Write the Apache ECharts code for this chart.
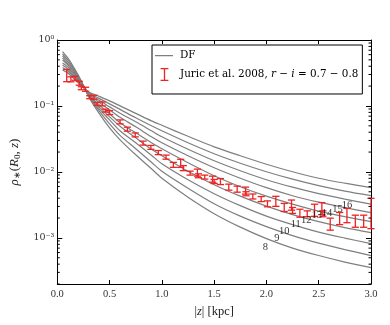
<!DOCTYPE html>
<html>
<head>
<meta charset="utf-8">
<script src="https://cdn.jsdelivr.net/npm/echarts@6/dist/echarts.min.js"></script>
<style>
html, body { margin: 0; padding: 0; background: #fff; }
#main { width: 390px; height: 325px; }
</style>
</head>
<body>
<div id="main"></div>
<script>
// model curves, sampled along |z|
var zGrid = [0.05, 0.1, 0.15, 0.2, 0.25, 0.3, 0.4, 0.5, 0.6, 0.75, 0.9, 1.0, 1.25, 1.5, 1.75, 2.0, 2.25, 2.5, 2.75, 3.0];
var radii = [8, 9, 10, 11, 12, 13, 14, 15, 16];
var dfR8  = [0.665, 0.534, 0.404, 0.295, 0.205, 0.1373, 0.0773, 0.0466, 0.0307, 0.0182, 0.01118, 0.00803, 0.00414, 0.00233, 0.001457, 0.000976, 0.000701, 0.00054, 0.00043, 0.000355];
var dfR9  = [0.614, 0.498, 0.3837, 0.2853, 0.2049, 0.1422, 0.0843, 0.0536, 0.0359, 0.02244, 0.01402, 0.01025, 0.00567, 0.0033, 0.002137, 0.001483, 0.001083, 0.000834, 0.000665, 0.00054];
var dfR10 = [0.573, 0.4647, 0.3641, 0.2756, 0.2014, 0.1422, 0.0904, 0.0616, 0.042, 0.02766, 0.01789, 0.01331, 0.00762, 0.00468, 0.00308, 0.002137, 0.001589, 0.001224, 0.000993, 0.00082];
var dfR11 = [0.534, 0.4334, 0.3456, 0.2661, 0.2014, 0.1472, 0.0969, 0.0684, 0.04913, 0.03292, 0.02205, 0.01758, 0.01025, 0.0064, 0.004289, 0.003028, 0.002252, 0.00176, 0.00143, 0.0012];
var dfR12 = [0.498, 0.4184, 0.328, 0.257, 0.1945, 0.1472, 0.1039, 0.076, 0.0555, 0.0392, 0.02766, 0.02244, 0.01378, 0.00876, 0.00597, 0.004289, 0.003246, 0.002543, 0.0021, 0.00176];
var dfR13 = [0.4487, 0.3905, 0.3113, 0.2483, 0.1945, 0.1524, 0.1134, 0.0873, 0.0672, 0.0483, 0.03407, 0.02766, 0.01758, 0.01157, 0.00803, 0.00577, 0.00436, 0.00348, 0.002873, 0.00241];
var dfR14 = [0.4184, 0.3641, 0.2954, 0.2397, 0.1945, 0.1579, 0.1216, 0.0969, 0.0773, 0.0575, 0.042, 0.03407, 0.02205, 0.01477, 0.01043, 0.00762, 0.005868, 0.00468, 0.003864, 0.003246];
var dfR15 = [0.3837, 0.3396, 0.2805, 0.2315, 0.1911, 0.1579, 0.1303, 0.1076, 0.0888, 0.0661, 0.05, 0.042, 0.02766, 0.01885, 0.01354, 0.01007, 0.00776, 0.006183, 0.005105, 0.00436];
var dfR16 = [0.352, 0.317, 0.2661, 0.2236, 0.1911, 0.1634, 0.1397, 0.1195, 0.1003, 0.0773, 0.0595, 0.0509, 0.03467, 0.024, 0.01758, 0.01308, 0.01007, 0.00803, 0.006745, 0.00577];
var dfCurves = [dfR8, dfR9, dfR10, dfR11, dfR12, dfR13, dfR14, dfR15, dfR16];

// where the R labels sit
var labelZ   = [1.99, 2.10, 2.17, 2.28, 2.38, 2.48, 2.58, 2.68, 2.77];
var labelRho = [0.000721, 0.000976, 0.00126, 0.00159, 0.001845, 0.00217, 0.00239, 0.00268, 0.00311];

// Juric et al. 2008 points
var zData = [0.09, 0.13, 0.17, 0.21, 0.23, 0.27, 0.31, 0.35, 0.38, 0.43, 0.46, 0.50, 0.60, 0.67, 0.745,
  0.82, 0.895, 0.966, 1.04, 1.11, 1.18, 1.205, 1.27, 1.34, 1.35, 1.41, 1.485, 1.50, 1.56, 1.64, 1.72,
  1.80, 1.805, 1.87, 1.95, 2.01, 2.09, 2.17, 2.24, 2.25, 2.32, 2.39, 2.46, 2.53, 2.54, 2.61, 2.70,
  2.77, 2.85, 2.93, 3.00];
var rhoData = [0.2954, 0.2543, 0.2634, 0.2213, 0.1859, 0.1795, 0.1358, 0.1358, 0.1076, 0.1076, 0.0852,
  0.0795, 0.0575, 0.0446, 0.0365, 0.0274, 0.0236, 0.0197, 0.0168, 0.01285, 0.01363, 0.01146, 0.00962,
  0.00983, 0.00876, 0.00837, 0.00781, 0.00718, 0.00718, 0.00591, 0.00551, 0.00525, 0.00468, 0.00426,
  0.00389, 0.0033, 0.00364, 0.00292, 0.00319, 0.00262, 0.00239, 0.00233, 0.00268, 0.00284, 0.00233,
  0.00165, 0.00201, 0.00225, 0.00183, 0.00183, 0.00268];
var sigData = [0.062, 0.022, 0.018, 0.015, 0.0097, 0.0126, 0.0071, 0.0095, 0.0056, 0.0075, 0.0044,
  0.0055, 0.004, 0.0031, 0.0025, 0.0019, 0.0016, 0.0014, 0.0012, 0.0011, 0.0019, 0.001, 0.00067,
  0.0012, 0.0006, 0.00058, 0.00082, 0.0005, 0.00075, 0.00062, 0.00058, 0.00064, 0.00033, 0.00037,
  0.00034, 0.00034, 0.00063, 0.00041, 0.00056, 0.00027, 0.00033, 0.00024, 0.00056, 0.00059, 0.00024,
  0.00034, 0.00042, 0.00055, 0.00038, 0.00038, 0.0013];

var minorTicks = [];
[1e-4, 1e-3, 1e-2, 1e-1].forEach(function (d) {
  for (var k = 2; k <= 9; k++) {
    var v = k * d;
    if (v >= 2e-4 && v < 1) minorTicks.push([0, v]);
  }
});

var juricName = 'Juric et al. 2008, r − i = 0.7 − 0.8';
var serif = 'Liberation Serif';
var sup = { '0': '⁰', '1': '¹', '2': '²', '3': '³', '4': '⁴', '-': '⁻' };

var myChart = echarts.init(document.getElementById('main'));

var series = [];
dfCurves.forEach(function (arr) {
  series.push({
    name: 'DF',
    type: 'line',
    data: zGrid.map(function (z, j) { return [z, arr[j]]; }),
    symbol: 'none',
    smooth: 0.3,
    lineStyle: { color: '#7f7f7f', width: 1.2 },
    itemStyle: { color: '#7f7f7f' },
    z: 2
  });
});

series.push({
  name: 'labels',
  type: 'scatter',
  data: labelZ.map(function (z, i) { return { value: [z, labelRho[i]], name: String(radii[i]) }; }),
  symbolSize: 0,
  silent: true,
  label: {
    show: true, position: 'inside', formatter: '{b}',
    fontFamily: serif, fontSize: 10.5, color: '#000'
  },
  z: 4
});

series.push({
  name: juricName,
  type: 'custom',
  data: zData.map(function (z, i) { return [z, rhoData[i], sigData[i]]; }),
  itemStyle: { color: '#ee2222' },
  renderItem: function (params, api) {
    var z = api.value(0), v = api.value(1), s = api.value(2);
    var top = api.coord([z, v + s]);
    var bot = api.coord([z, Math.max(v - s, 1e-6)]);
    var w = 3.6;
    var st = { stroke: '#ee2222', lineWidth: 1.3 };
    return {
      type: 'group',
      children: [
        { type: 'line', shape: { x1: top[0], y1: top[1], x2: bot[0], y2: bot[1] }, style: st },
        { type: 'line', shape: { x1: top[0] - w, y1: top[1], x2: top[0] + w, y2: top[1] }, style: st },
        { type: 'line', shape: { x1: bot[0] - w, y1: bot[1], x2: bot[0] + w, y2: bot[1] }, style: st }
      ]
    };
  },
  z: 3
});

series.push({
  name: 'minor',
  type: 'custom',
  data: minorTicks,
  silent: true,
  renderItem: function (params, api) {
    var v = api.value(1);
    var l = api.coord([0, v]), r = api.coord([3, v]);
    var st = { stroke: '#000', lineWidth: 1 };
    return {
      type: 'group',
      children: [
        { type: 'line', shape: { x1: l[0], y1: l[1], x2: l[0] + 2.5, y2: l[1] }, style: st },
        { type: 'line', shape: { x1: r[0], y1: r[1], x2: r[0] - 2.5, y2: r[1] }, style: st }
      ]
    };
  },
  z: 5
});

var xBase = {
  type: 'value', min: 0, max: 3, interval: 0.5,
  axisLine: { show: true, onZero: false, lineStyle: { color: '#000', width: 1 } },
  axisTick: { show: true, inside: true, length: 4, lineStyle: { color: '#000' } },
  splitLine: { show: false }
};
var yBase = {
  type: 'log', logBase: 10, min: 2e-4, max: 1,
  axisLine: { show: true, onZero: false, lineStyle: { color: '#000', width: 1 } },
  axisTick: { show: true, inside: true, length: 5, lineStyle: { color: '#000' } },
  splitLine: { show: false }
};

myChart.setOption({
  animation: false,
  backgroundColor: '#fff',
  grid: { left: 49, right: 19, top: 40, bottom: 41 },
  legend: {
    left: 152, top: 45, orient: 'vertical',
    itemWidth: 21, itemHeight: 13, itemGap: 6,
    padding: [4, 4, 13, 2],
    borderColor: '#000', borderWidth: 1, borderRadius: 0,
    backgroundColor: '#fff',
    textStyle: {
      fontFamily: 'DejaVu Serif', fontSize: 10.4, color: '#000',
      rich: {
        n: { fontFamily: 'DejaVu Serif', fontSize: 10.4, color: '#000' },
        i: { fontFamily: 'DejaVu Serif', fontSize: 10.4, color: '#000', fontStyle: 'italic' }
      }
    },
    data: [
      { name: 'DF', itemStyle: { color: '#7f7f7f' },
        icon: 'path://M0,0L0.01,0Z M21,13L21.01,13Z M1,6H19V7.2H1Z' },
      { name: juricName, itemStyle: { color: '#ee2222' },
        icon: 'path://M0,0L0.01,0Z M21,13L21.01,13Z M6.6,0H14.4V1.3H11.15V11.7H14.4V13H6.6V11.7H9.85V1.3H6.6Z' }
    ],
    formatter: function (n) {
      if (n === 'DF') return '{n|DF}';
      return '{n|Juric et al. 2008, }{i|r}{n| − }{i|i}{n| = 0.7 − 0.8}';
    }
  },
  xAxis: [
    Object.assign({}, xBase, {
      position: 'bottom',
      axisLabel: { margin: 5, fontFamily: serif, fontSize: 10.5, color: '#333',
        formatter: function (v) { return v.toFixed(1); } },
      name: '{n||}{i|z}{n|| [kpc]}',
      nameLocation: 'middle', nameGap: 19,
      nameTextStyle: {
        rich: {
          n: { fontFamily: serif, fontSize: 12.5, color: '#222' },
          i: { fontFamily: serif, fontSize: 12.5, color: '#222', fontStyle: 'italic' }
        }
      }
    }),
    Object.assign({}, xBase, { position: 'top', axisLabel: { show: false } })
  ],
  yAxis: [
    Object.assign({}, yBase, {
      position: 'left',
      axisLabel: {
        margin: 3, fontFamily: 'DejaVu Serif', fontSize: 9.5, color: '#333', showMinLabel: false,
        formatter: function (v) {
          var e = String(Math.round(Math.log10(v)));
          return '10' + e.split('').map(function (c) { return sup[c]; }).join('');
        }
      },
      name: '{i|ρ}{s|∗}{n|(}{i|R}{s|0}{n|, }{i|z}{n|)}',
      nameLocation: 'middle', nameRotate: 90, nameGap: 30,
      nameTextStyle: {
        rich: {
          n: { fontFamily: serif, fontSize: 13, color: '#222' },
          i: { fontFamily: serif, fontSize: 13, color: '#222', fontStyle: 'italic' },
          s: { fontFamily: serif, fontSize: 9, color: '#222', padding: [7, 0, 0, 0] }
        }
      }
    }),
    Object.assign({}, yBase, { position: 'right', axisLabel: { show: false } })
  ],
  series: series
});
</script>
</body>
</html>
